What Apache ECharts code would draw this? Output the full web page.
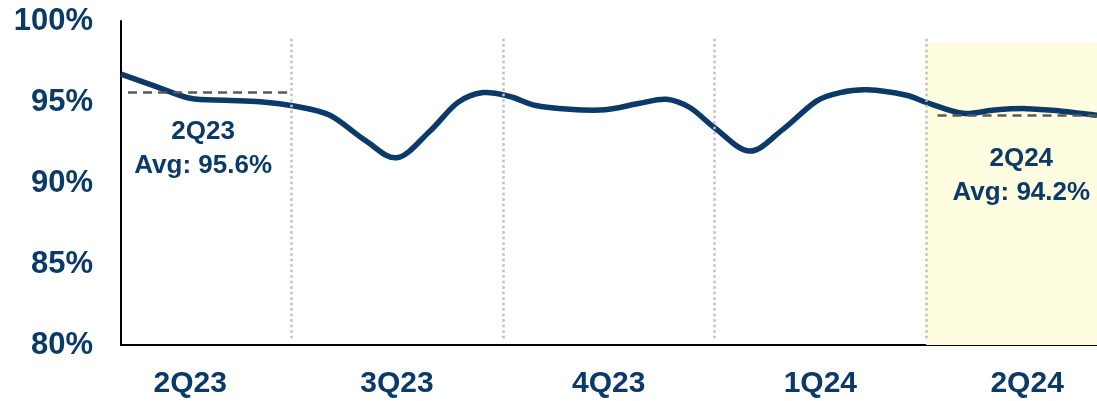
<!DOCTYPE html>
<html>
<head>
<meta charset="utf-8">
<script src="https://cdn.jsdelivr.net/npm/echarts@6/dist/echarts.min.js"></script>
<style>
  html, body { margin: 0; padding: 0; background: #ffffff; }
  #chart { width: 1097px; height: 401px; }
</style>
</head>
<body>
<div id="chart"></div>
<script>
// Time runs in months; 2Q23 spans 0..3, 3Q23 3..6, and so on.
const xMin = 0.59;
const xMax = 14.42;

// Timeline positions (months) of the rate readings
const months = [0.59, 1.07, 1.57, 2.06, 2.56, 3.06, 3.55, 4.05, 4.50, 4.97, 5.36, 5.72, 6.10, 6.45, 6.95, 7.45,
                7.94, 8.32, 8.65, 9.00, 9.50, 9.97, 10.45, 10.78, 11.16, 11.72, 12.01, 12.52, 12.97, 13.42, 13.89, 14.42];
// Rate (%) at each of those positions
const rates = [96.72, 95.98, 95.23, 95.11, 95.02, 94.74, 94.18, 92.63, 91.56, 93.21, 94.96, 95.58, 95.34, 94.80, 94.55, 94.52,
               94.92, 95.17, 94.66, 93.41, 91.97, 93.31, 95.07, 95.58, 95.75, 95.42, 94.96, 94.30, 94.51, 94.59, 94.45, 94.18];

// Quarter axis labels and where they sit on the timeline
const quarterLabels = ['2Q23', '3Q23', '4Q23', '1Q24', '2Q24'];
const quarterCenters = [1.57, 4.5, 7.5, 10.5, 13.43];
const quarterBounds = [3, 6, 9, 12];

// Quarter averages shown as dashed reference lines
const avgQuarters = ['2Q23', '2Q24'];
const avgValues = [95.6, 94.2];
const avgSpans = [[0.69, 2.96], [12.16, xMax]];

// Y axis ticks
const yMin = 80, yMax = 100, yStep = 5;

const navy = '#0b3a68';
const fontFamily = '"Liberation Sans", Arial, sans-serif';

const chart = echarts.init(document.getElementById('chart'), null, { renderer: 'canvas' });

const lineData = months.map((m, i) => [m, rates[i]]);

// Smooth curve through the readings: cubic Hermite segments whose tangents
// come from neighbouring points, evaluated in pixel space.
function smoothPath(pts) {
  const n = pts.length;
  const slope = pts.map((p, i) => {
    const a = pts[Math.max(0, i - 1)];
    const b = pts[Math.min(n - 1, i + 1)];
    return (b[1] - a[1]) / (b[0] - a[0]);
  });
  let d = 'M' + pts[0][0] + ',' + pts[0][1];
  for (let i = 0; i < n - 1; i++) {
    const p0 = pts[i], p1 = pts[i + 1];
    const h = (p1[0] - p0[0]) / 3;
    d += ' C' + (p0[0] + h) + ',' + (p0[1] + slope[i] * h) + ' ' +
         (p1[0] - h) + ',' + (p1[1] - slope[i + 1] * h) + ' ' +
         p1[0] + ',' + p1[1];
  }
  return d;
}

const dividerLines = quarterBounds.map(b => [
  { coord: [b, 98.9], symbol: 'none' },
  { coord: [b, 80.3], symbol: 'none' }
]);

const avgLines = avgValues.map((v, i) => [
  { coord: [avgSpans[i][0], v], symbol: 'none' },
  { coord: [avgSpans[i][1], v], symbol: 'none' }
]);

const avgLabelOffsets = [[-5, 57], [4, 61]];
const avgLabels = avgValues.map((v, i) => ({
  coord: [(avgSpans[i][0] + avgSpans[i][1]) / 2, v],
  symbolSize: 0,
  label: {
    show: true,
    position: 'inside',
    offset: avgLabelOffsets[i],
    formatter: avgQuarters[i] + '\nAvg: ' + v.toFixed(1) + '%',
    color: navy,
    fontSize: 26,
    fontWeight: 'bold',
    fontFamily: fontFamily,
    lineHeight: 34,
    align: 'center'
  }
}));

chart.setOption({
  animation: false,
  backgroundColor: '#ffffff',
  grid: { left: 121, right: 0, top: 21, bottom: 56, containLabel: false },
  xAxis: {
    type: 'value',
    min: xMin,
    max: xMax,
    axisLine: { show: true, onZero: false, lineStyle: { color: '#000000', width: 2 } },
    axisTick: { show: false },
    splitLine: { show: false },
    axisLabel: {
      customValues: quarterCenters,
      formatter: v => {
        const idx = quarterCenters.findIndex(c => Math.abs(c - v) < 1e-6);
        return idx >= 0 ? quarterLabels[idx] : '';
      },
      color: navy,
      fontSize: 30,
      fontWeight: 'bold',
      fontFamily: fontFamily,
      margin: 24
    }
  },
  yAxis: {
    type: 'value',
    min: yMin,
    max: yMax,
    interval: yStep,
    axisLine: { show: true, lineStyle: { color: '#000000', width: 2 } },
    axisTick: { show: false },
    splitLine: { show: false },
    axisLabel: {
      formatter: '{value}%',
      color: navy,
      fontSize: 31,
      fontWeight: 'bold',
      fontFamily: fontFamily,
      margin: 28
    }
  },
  series: [
    {
      // 2Q24 highlight band
      type: 'line',
      data: [],
      z: 1,
      silent: true,
      markArea: {
        silent: true,
        itemStyle: { color: '#fffde0' },
        data: [[{ coord: [12, 98.7] }, { coord: [xMax, yMin] }]]
      }
    },
    {
      // quarter dividers
      type: 'line',
      data: [],
      z: 2,
      silent: true,
      markLine: {
        silent: true,
        symbol: 'none',
        label: { show: false },
        lineStyle: { color: '#bfbfbf', width: 2.5, type: [2.5, 3] },
        data: dividerLines
      }
    },
    {
      // quarter averages with their captions
      type: 'line',
      data: [],
      z: 2,
      silent: true,
      markLine: {
        silent: true,
        symbol: 'none',
        label: { show: false },
        lineStyle: { color: '#595959', width: 2.5, type: [9, 6] },
        data: avgLines
      },
      markPoint: {
        silent: true,
        symbol: 'circle',
        data: avgLabels
      }
    },
    {
      // rate curve
      type: 'custom',
      data: lineData,
      z: 3,
      silent: true,
      renderItem: (params, api) => {
        if (params.dataIndex !== 0) return null;
        const pts = lineData.map(d => api.coord(d));
        return {
          type: 'path',
          shape: { pathData: smoothPath(pts) },
          style: { fill: 'none', stroke: navy, lineWidth: 5.5, lineJoin: 'round', lineCap: 'butt' }
        };
      }
    }
  ]
});
</script>
</body>
</html>
